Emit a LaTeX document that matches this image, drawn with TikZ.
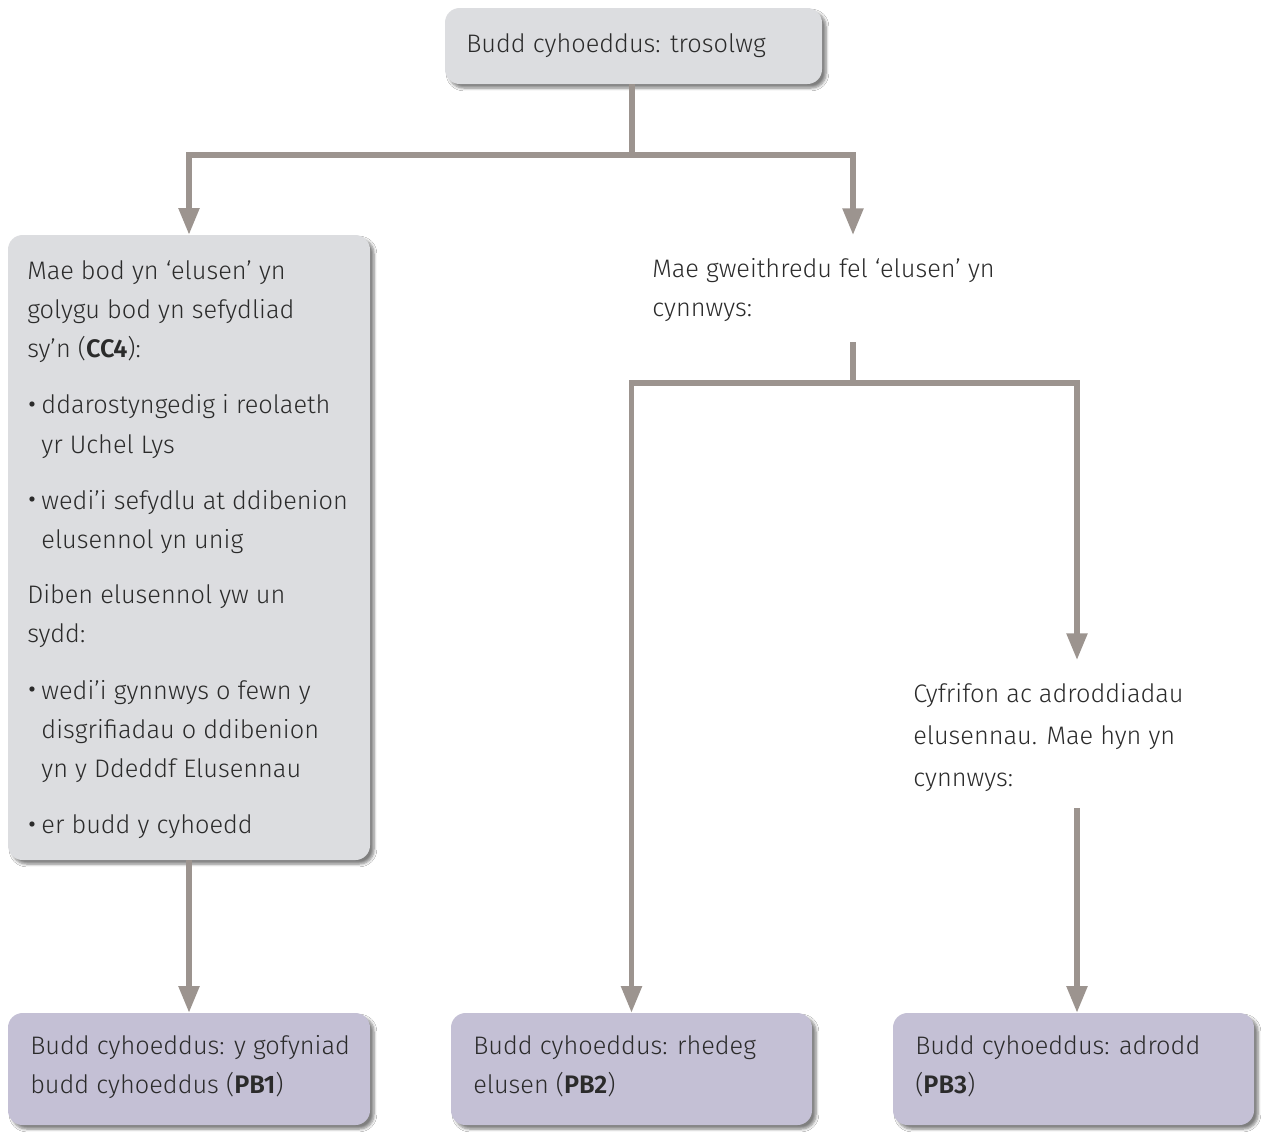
\documentclass[tikz,border=0pt]{standalone}
\usepackage{fontspec}
\setmainfont{Fira Sans}[UprightFont=* Light, BoldFont=* SemiBold]
\usetikzlibrary{arrows.meta,fit,shadows.blur}
\definecolor{boxgray}{HTML}{DCDDE0}
\definecolor{boxpurple}{HTML}{C4C0D5}
\definecolor{linegray}{HTML}{9C948F}
\definecolor{txt}{HTML}{2B2B2B}
\newcommand{\bul}{{\fontsize{26pt}{0pt}\selectfont\raisebox{-1.8pt}{•}}\,}
\newcommand{\bulsp}{\hphantom{\bul}}
\tikzset{
  box/.style={rounded corners=11pt, inner sep=0pt, draw=none,
    blur shadow={shadow xshift=3pt, shadow yshift=-3pt, shadow blur steps=6, shadow opacity=50}},
  graybox/.style={box, fill=boxgray},
  purplebox/.style={box, fill=boxpurple},
  lbl/.style={anchor=north west, inner sep=0pt, align=left, text=txt,
    font=\fontsize{19pt}{29.5pt}\selectfont},
  conn/.style={draw=linegray, line width=4pt},
  arr/.style={conn, -{Triangle[length=20pt,width=15pt]}},
}
\begin{document}
\begin{tikzpicture}[x=0.75pt,y=-0.75pt]
\path[use as bounding box, fill=white] (0,0) rectangle (1266,1133);
% boxes
\node[graybox, fit={(445,8) (822,84)}] (top) {};
\node[graybox, fit={(8,235) (370,860)}] (lbox) {};
\node[purplebox, fit={(8,1013) (370,1125)}] (pb1) {};
\node[purplebox, fit={(451,1013) (812,1125)}] (pb2) {};
\node[purplebox, fit={(893,1013) (1254,1125)}] (pb3) {};
% texts
\node[lbl] (toptxt) at (466,33) {Budd cyhoeddus: trosolwg};
\node[lbl] (ltxt) at (27,260) {Mae bod yn ‘elusen’ yn\\
golygu bod yn sefydliad\\
sy’n (\textbf{CC4}):\\[12.5pt]
\bul ddarostyngedig i reolaeth\\
\bulsp yr Uchel Lys\\[12.5pt]
\bul wedi’i sefydlu at ddibenion\\
\bulsp elusennol yn unig\\[11.5pt]
Diben elusennol yw un\\
sydd:\\[13pt]
\bul wedi’i gynnwys o fewn y\\
\bulsp disgrifiadau o ddibenion\\
\bulsp yn y Ddeddf Elusennau\\[12.5pt]
\bul er budd y cyhoedd};
\node[lbl] (gtxt) at (652,258) {Mae gweithredu fel ‘elusen’ yn\\cynnwys:};
\node[lbl, font=\fontsize{19pt}{31.5pt}\selectfont] (ctxt) at (913,683) {Cyfrifon ac adroddiadau\\elusennau. Mae hyn yn\\cynnwys:};
\node[lbl] (pb1txt) at (30,1035) {Budd cyhoeddus: y gofyniad\\budd cyhoeddus (\textbf{PB1})};
\node[lbl] (pb2txt) at (473,1035) {Budd cyhoeddus: rhedeg\\elusen (\textbf{PB2})};
\node[lbl] (pb3txt) at (915,1035) {Budd cyhoeddus: adrodd\\(\textbf{PB3})};
% junctions
\coordinate (j1) at (632,155);
\coordinate (gin) at (853,235);
\coordinate (gout) at (853,342);
\coordinate (j2) at (853,383);
\coordinate (cin) at (1077,660);
\coordinate (cout) at (1077,808);
% connectors
\draw[conn] (top.south -| j1) -- (j1);
\draw[arr] (j1) -| (lbox.north);
\draw[arr] (j1) -| (gin);
\draw[conn] (gout) -- (j2);
\draw[arr] (j2) -| (pb2.north);
\draw[arr] (j2) -| (cin);
\draw[arr] (cout) -- (cout |- pb3.north);
\draw[arr] (lbox.south) -- (pb1.north);
\end{tikzpicture}
\end{document}
